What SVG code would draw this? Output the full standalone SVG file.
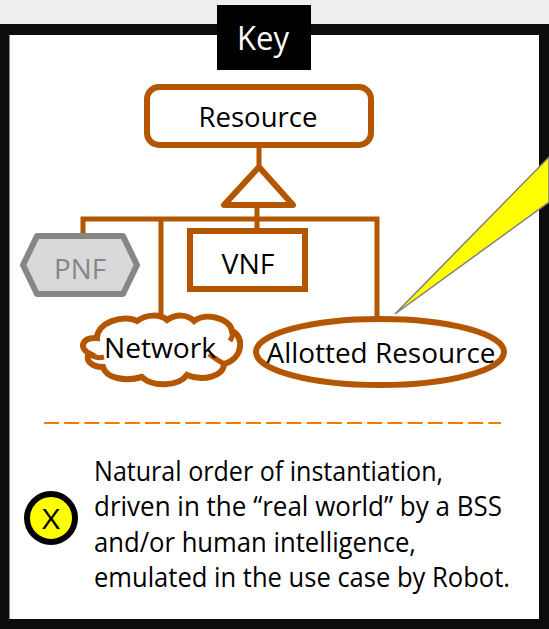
<svg xmlns="http://www.w3.org/2000/svg" width="549" height="629" viewBox="0 0 549 629">
<style>
.t{font-family:"Open Sans","Noto Sans","Liberation Sans",sans-serif;font-size:28px;fill:#000}
.o{fill:#fff;stroke:#b45500;stroke-width:6}
.c{fill:none;stroke:#b45500;stroke-width:6}
.d{fill:none;stroke:#b45500;stroke-width:5}
</style>
<rect width="549" height="629" fill="#eee"/>
<rect x="4.500" y="29.500" width="540" height="595" fill="#fff" stroke="#0d0d0d" stroke-width="10"/>
<rect x="0" y="24" width="9" height="605" fill="#0d0d0d"/>
<rect x="539" y="24" width="10" height="605" fill="#0d0d0d"/>
<rect x="0" y="24" width="549" height="11" fill="#0d0d0d"/>
<rect x="0" y="619" width="549" height="10" fill="#0d0d0d"/>
<g id="key"><rect x="217" y="5" width="94" height="65" fill="#000"/><text x="263" y="50" text-anchor="middle" class="t" style="font-size:33px;fill:#fff" textLength="52" lengthAdjust="spacingAndGlyphs">Key</text></g>
<g id="connectors">
<path class="d" d="M259 146V168M257 206V232M83 236V219H377V318M161 219V318"/>
</g>
<g id="inherit"><path d="M259 167L224 205H293Z" class="o" stroke-linejoin="round"/></g>
<g id="resource"><rect x="147" y="87" width="224" height="58" rx="12" class="o"/><text x="258" y="127" text-anchor="middle" class="t" textLength="119" lengthAdjust="spacingAndGlyphs">Resource</text></g>
<g id="pnf"><path d="M37 236H123L137 265L123 294H37L23 265Z" fill="#d9d9d9" stroke="#868686" stroke-width="6" stroke-linejoin="round"/><text x="80" y="279" text-anchor="middle" class="t" style="fill:#868686" textLength="52" lengthAdjust="spacingAndGlyphs">PNF</text></g>
<g id="vnf"><rect x="190" y="231" width="115" height="58" class="o"/><text x="248" y="274" text-anchor="middle" class="t" textLength="53" lengthAdjust="spacingAndGlyphs">VNF</text></g>
<g id="network"><path class="o" d="M97 338C97 322 125 314 137 321C147 314 160 314 167 320C176 314 187 314 194 321C205 312 230 318 232 331C244 336 244 358 224 364C224 376 203 382 187 375C178 387 152 387 142 377C125 382 106 378 103 367C90 367 84 358 90 354C78 348 82 337 97 338Z"/><path class="d" d="M90 354C94 358 100 358 104 357M232 331C233 335 232 338 230 341M224 364C221 362 214 358 209 354"/><text x="160" y="358" text-anchor="middle" class="t" textLength="112" lengthAdjust="spacingAndGlyphs">Network</text></g>
<g id="allotted"><ellipse cx="380" cy="352" rx="124" ry="33" class="o"/><text x="381" y="363" text-anchor="middle" class="t" textLength="229" lengthAdjust="spacingAndGlyphs">Allotted Resource</text></g>
<path d="M395 314L549 157V202Z" fill="#ff0" stroke="#7f7f7f" stroke-width="1.500"/>
<path d="M44 423H501" stroke="#f47a00" stroke-width="2" stroke-dasharray="15 5.200"/>
<g id="marker"><circle cx="51" cy="518" r="24" fill="#ff0" stroke="#000" stroke-width="6"/><text x="51" y="529" text-anchor="middle" class="t" textLength="18" lengthAdjust="spacingAndGlyphs">X</text></g>
<g id="note">
<text x="94" y="481" class="t" textLength="349" lengthAdjust="spacingAndGlyphs">Natural order of instantiation,</text>
<text x="94" y="516" class="t" textLength="408" lengthAdjust="spacingAndGlyphs">driven in the “real world” by a BSS</text>
<text x="94" y="552" class="t" textLength="322" lengthAdjust="spacingAndGlyphs">and/or human intelligence,</text>
<text x="94" y="587" class="t" textLength="416" lengthAdjust="spacingAndGlyphs">emulated in the use case by Robot.</text>
</g>
</svg>
